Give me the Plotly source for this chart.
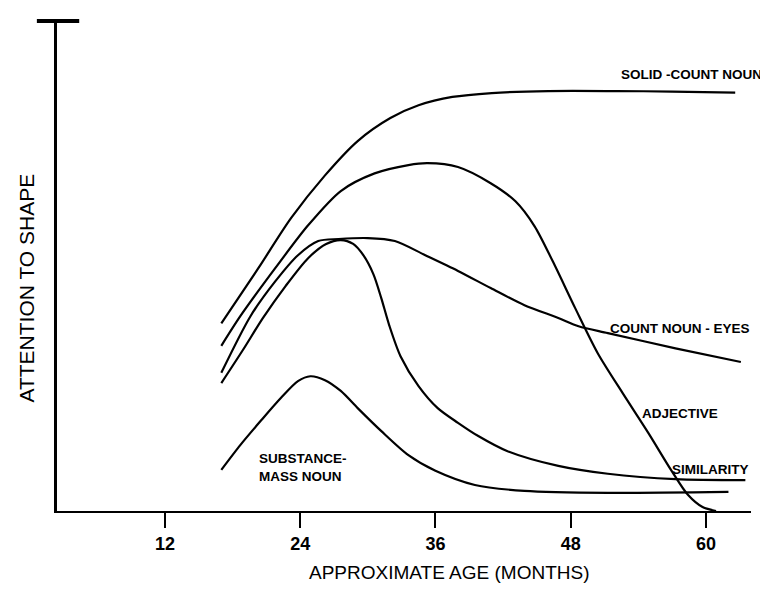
import plotly.graph_objects as go

# ---- data (months, attention to shape on a 0-100 scale) ----
tick_vals = [12, 24, 36, 48, 60]
tick_text = ["12", "24", "36", "48", "60"]

solid_x = [17.0, 20.3, 23.2, 26.2, 29.1, 32.0, 34.5, 37.5, 41.0, 46.0, 52.0, 57.0, 62.6]
solid_y = [38.3, 49.6, 59.8, 68.5, 75.5, 80.2, 82.8, 84.5, 85.3, 85.7, 85.7, 85.6, 85.4]

adj_x = [17.0, 18.7, 21.8, 24.7, 27.6, 30.6, 33.6, 35.3, 38.0, 40.9, 43.1, 44.8, 46.4, 48.4, 50.4, 52.6, 54.9, 56.9, 58.4, 59.7, 60.9]
adj_y = [33.7, 39.8, 49.6, 58.3, 65.3, 68.9, 70.6, 71.0, 70.2, 66.9, 63.2, 58.1, 51.0, 41.4, 32.2, 24.1, 15.9, 8.4, 3.3, 0.8, 0.0]

eyes_x = [17.0, 19.6, 21.8, 23.8, 25.6, 27.4, 30.0, 32.4, 35.1, 38.0, 40.9, 43.9, 46.9, 48.7, 51.3, 57.3, 63.1]
eyes_y = [28.2, 39.8, 46.9, 52.2, 55.1, 55.5, 55.7, 55.1, 52.2, 49.0, 45.5, 42.0, 39.4, 37.7, 36.3, 33.2, 30.4]

sim_x = [17.0, 18.9, 20.7, 22.7, 24.7, 26.3, 27.6, 28.7, 29.6, 30.5, 31.2, 31.9, 32.9, 34.5, 36.2, 38.0, 39.8, 42.4, 46.9, 51.3, 57.3, 63.5]
sim_y = [26.1, 32.8, 39.4, 45.9, 51.6, 54.5, 55.3, 54.5, 52.2, 48.3, 43.4, 37.9, 31.6, 25.5, 21.0, 18.0, 15.3, 12.2, 9.2, 7.6, 6.5, 6.3]

mass_x = [17.0, 18.7, 20.5, 22.3, 23.8, 24.9, 26.2, 27.6, 29.1, 31.2, 33.6, 36.0, 39.5, 43.9, 51.3, 62.0]
mass_y = [8.4, 13.5, 18.4, 23.1, 26.5, 27.5, 26.7, 24.5, 21.0, 16.3, 11.4, 8.2, 5.3, 4.1, 3.7, 3.9]

labels = ["SOLID -COUNT NOUN", "COUNT NOUN - EYES", "ADJECTIVE", "SIMILARITY", "SUBSTANCE-<br>MASS NOUN"]
label_x = [58.7, 57.7, 57.7, 60.4, 20.2]
label_y = [89.1, 37.3, 20.0, 8.4, 8.9]

FONT = "Liberation Sans, Arial, sans-serif"

fig = go.Figure()
for xs, ys in [(solid_x, solid_y), (adj_x, adj_y), (eyes_x, eyes_y), (sim_x, sim_y), (mass_x, mass_y)]:
    fig.add_trace(go.Scatter(x=xs, y=ys, mode="lines",
                             line=dict(color="black", width=2.2, shape="spline", smoothing=0.8),
                             hoverinfo="skip", showlegend=False))

for i, (t, x, y) in enumerate(zip(labels, label_x, label_y)):
    fig.add_annotation(x=x, y=y, xref="x", yref="y", text="<b>" + t + "</b>", showarrow=False,
                       xanchor="left" if i == 4 else "center", yanchor="middle", align="left",
                       font=dict(family=FONT, size=13.5, color="black"))

# axis titles
fig.add_annotation(x=-0.044, y=0.455, xref="paper", yref="paper", text="ATTENTION TO SHAPE",
                   textangle=-90, showarrow=False, xanchor="center", yanchor="middle",
                   font=dict(family=FONT, size=21, color="black"))
fig.add_annotation(x=0.565, y=-0.126, xref="paper", yref="paper", text="APPROXIMATE AGE (MONTHS)",
                   showarrow=False, xanchor="center", yanchor="middle",
                   font=dict(family=FONT, size=19, color="black"))

# top cap of the y axis
fig.add_shape(type="line", xref="paper", yref="paper", x0=-0.029, x1=0.032, y0=1.0, y1=1.0,
              line=dict(color="black", width=4))

fig.update_layout(
    width=768, height=590,
    margin=dict(l=49, r=25, t=13, b=87),
    paper_bgcolor="white", plot_bgcolor="white",
    showlegend=False,
    xaxis=dict(range=[2.42, 64.0], showgrid=False, zeroline=False, showline=True,
               linecolor="black", linewidth=2, ticks="outside", ticklen=15, tickwidth=2,
               tickcolor="black", tickvals=tick_vals, ticktext=["<b>" + t + "</b>" for t in tick_text],
               tickfont=dict(family=FONT, size=18, color="black"),
               fixedrange=True),
    yaxis=dict(range=[0, 100], showgrid=False, zeroline=False, showline=True,
               linecolor="black", linewidth=2.5, ticks="", showticklabels=False,
               fixedrange=True),
)
fig.write_html("out.html")
